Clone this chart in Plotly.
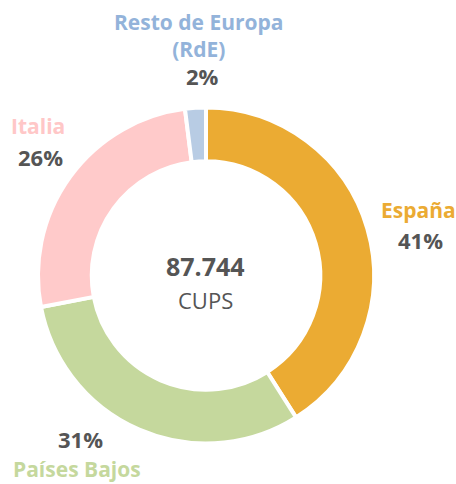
import plotly.graph_objects as go

categories = ["España", "Países Bajos", "Italia", "Resto de Europa<br>(RdE)"]
values = [41, 31, 26, 2]
pct_labels = ["41%", "31%", "26%", "2%"]
colors = ["#EBAB33", "#C5D89D", "#FFCACA", "#B8CCE4"]
label_colors = ["#EBAB33", "#C5D89D", "#FFC7C7", "#93B3DA"]
total_value = "87.744"
total_unit = "CUPS"

W, H = 456, 484
FONT = "Open Sans"

fig = go.Figure(go.Pie(
    labels=categories,
    values=values,
    sort=False,
    direction="clockwise",
    rotation=0,
    hole=0.68,
    textinfo="none",
    hoverinfo="label+percent",
    marker=dict(colors=colors, line=dict(color="white", width=4)),
    domain=dict(x=[(206 - 168) / W, (206 + 168) / W], y=[1 - 443.5 / H, 1 - 107.5 / H]),
    showlegend=False,
))

def px(x, y):
    return x / W, 1 - y / H

# label positions (pixel centers) for name and percent
name_pos = [(418, 210), (77, 469), (38, 126), (199, 36)]
pct_pos = [(420, 240), (80, 439), (40, 157), (202, 76)]

annotations = []
for i in range(len(categories)):
    x, y = px(*name_pos[i])
    annotations.append(dict(x=x, y=y, xref="paper", yref="paper", text=categories[i],
                            showarrow=False, xanchor="center", yanchor="middle",
                            font=dict(family=FONT, size=21, color=label_colors[i], weight="bold")))
    x, y = px(*pct_pos[i])
    annotations.append(dict(x=x, y=y, xref="paper", yref="paper", text=pct_labels[i],
                            showarrow=False, xanchor="center", yanchor="middle",
                            font=dict(family=FONT, size=22, color="#555555", weight="bold")))

x, y = px(205, 266)
annotations.append(dict(x=x, y=y, xref="paper", yref="paper", text=total_value, showarrow=False,
                        font=dict(family=FONT, size=25, color="#555555", weight="bold")))
x, y = px(205, 300)
annotations.append(dict(x=x, y=y, xref="paper", yref="paper", text=total_unit, showarrow=False,
                        font=dict(family=FONT, size=22, color="#555555")))

fig.update_layout(
    width=W, height=H,
    margin=dict(l=0, r=0, t=0, b=0),
    paper_bgcolor="white", plot_bgcolor="white",
    annotations=annotations,
)

fig.write_html("out.html", config={"displayModeBar": False},
               post_script="document.body.style.margin='0';document.body.style.overflow='hidden';")
